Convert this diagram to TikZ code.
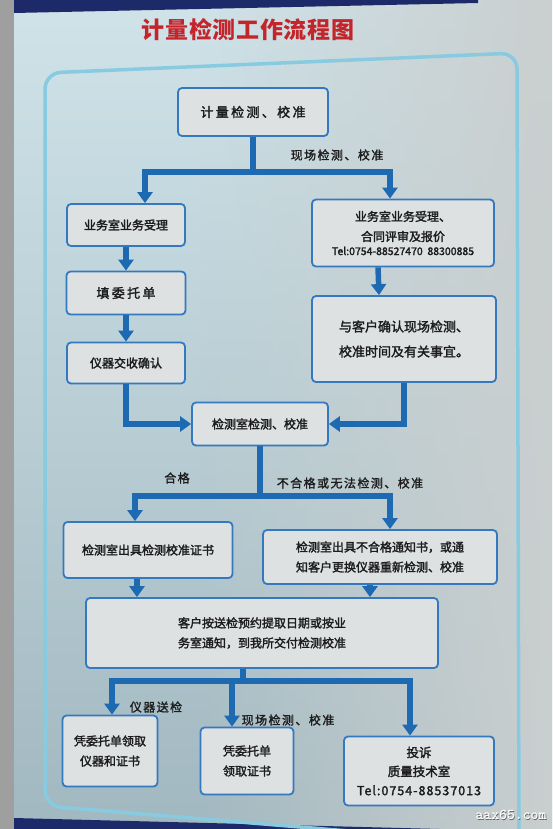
\documentclass[tikz,border=0pt]{standalone}
\usepackage{fontspec}
\newfontfamily\cjk{Noto Sans CJK SC}
\usetikzlibrary{arrows.meta,calc,positioning,fadings}
\definecolor{postertop}{HTML}{CFE3E9}
\definecolor{posterbot}{HTML}{A2B8C0}
\definecolor{posterright}{HTML}{CACFCF}
\definecolor{framecol}{HTML}{88CADF}
\definecolor{boxblue}{HTML}{3479C0}
\definecolor{boxgray}{HTML}{DEE1E2}
\definecolor{flowblue}{HTML}{1E6AB2}
\definecolor{textdark}{HTML}{1C1C1C}
\definecolor{titlered}{HTML}{C4252B}
\definecolor{navy}{HTML}{1C2A6A}
\begin{document}
\begin{tikzpicture}[x=1pt,y=-1pt,
    box/.style={draw=boxblue,line width=1.8pt,fill=boxgray,rounded corners=4pt,
      align=center,text=textdark,inner sep=2pt,
      font=\cjk\fontsize{12}{20}\selectfont\addfontfeature{FakeBold=2}},
    spaced/.style={font=\cjk\fontsize{13}{20}\selectfont\addfontfeature{LetterSpace=18,FakeBold=2}},
    flow/.style={draw=flowblue,line width=5.5pt,-{Triangle[width=15pt,length=11pt]}},
    bar/.style={draw=flowblue,line width=5.5pt},
    lbl/.style={font=\cjk\fontsize{12}{14}\selectfont\addfontfeature{LetterSpace=12,FakeBold=1.5},text=textdark}]
  \useasboundingbox (0,0) rectangle (552,829);
  %Poster
  \shade[top color=postertop,bottom color=posterbot] (0,0) rectangle (552,829);
  \fill[posterright,path fading=west] (200,0) rectangle (552,829);
  \fill[gray!75] (0,0) rectangle (14,829);
  \fill[navy] (14,0) -- (478,0) -- (478,3) -- (14,13) -- cycle;
  \fill[navy] (14,818) -- (440,829) -- (14,829) -- cycle;
  \draw[framecol,line width=3.5pt,rounded corners=16pt] (45,73) -- (517,53) -- (519,845) -- (45,806) -- cycle;
  %Title
  \node[font=\cjk\bfseries\fontsize{23}{25}\selectfont\addfontfeature{LetterSpace=3},text=titlered] (title) at (248,30) {计量检测工作流程图};
  %Boxes
  \node[box,spaced,minimum width=150,minimum height=48] (start) at (253,112) {计量检测、校准};
  \node[box,minimum width=118,minimum height=42] (desk) at (126,225) {业务室业务受理};
  \node[box,minimum width=182,minimum height=67] (deskon) at (403,233)
    {业务室业务受理、\\合同评审及报价\\[-6pt]{\fontsize{10.5}{12}\selectfont Tel:0754-88527470\ \ 88300885}};
  \node[box,spaced,minimum width=119,minimum height=43] (form) at (126,293) {填委托单};
  \node[box,font=\cjk\fontsize{13}{25}\selectfont\addfontfeature{FakeBold=2},minimum width=184,minimum height=86] (confirm) at (404,339)
    {与客户确认现场检测、\\校准时间及有关事宜。};
  \node[box,minimum width=118,minimum height=41] (handover) at (126,363) {仪器交收确认};
  \node[box,minimum width=136,minimum height=43] (lab) at (260,424) {检测室检测、校准};
  \node[box,minimum width=169,minimum height=56] (cert) at (148,550) {检测室出具检测校准证书};
  \node[box,minimum width=234,minimum height=54] (fail) at (380,557)
    {检测室出具不合格通知书，或通\\知客户更换仪器重新检测、校准};
  \node[box,minimum width=352,minimum height=70] (collect) at (262,633)
    {客户按送检预约提取日期或按业\\务室通知，到我所交付检测校准};
  \node[box,minimum width=95,minimum height=71] (pickup) at (110,751) {凭委托单领取\\仪器和证书};
  \node[box,minimum width=93,minimum height=67] (pickcert) at (247,761) {凭委托单\\领取证书};
  \node[box,font=\cjk\fontsize{12.5}{19}\selectfont\addfontfeature{FakeBold=2},minimum width=150,minimum height=69] (complain) at (419,771)
    {投诉\\质量技术室\\{\fontsize{12.5}{14}\selectfont\addfontfeature{LetterSpace=8}Tel:0754-88537013}};
  %Junctions
  \coordinate (j1) at (253,172);
  \coordinate (j2) at (260,496);
  \coordinate (j3) at (243,681);
  %Flow
  \draw[bar] (start.south) -- (j1);
  \draw[flow] (j1) -| ([xshift=19pt]desk.north);
  \draw[flow] (j1) -| ([xshift=-13pt]deskon.north);
  \draw[flow] (desk.south) -- (form.north);
  \draw[flow] (form.south) -- (handover.north);
  \draw[flow] ([xshift=-25pt]deskon.south) -- ([xshift=-25pt]confirm.north);
  \draw[flow] (handover.south) |- (lab.west);
  \draw[flow] (confirm.south) |- (lab.east);
  \draw[bar] (lab.south) -- (j2);
  \draw[flow] (j2) -| ([xshift=-13pt]cert.north);
  \draw[flow] (j2) -| ([xshift=10pt]fail.north);
  \draw[flow] ([xshift=-11pt]cert.south) -- ([xshift=-11pt]cert.south |- collect.north);
  \draw[flow] ([xshift=-10pt]fail.south) -- ([xshift=-10pt]fail.south |- collect.north);
  \draw[bar] ([xshift=-19pt]collect.south) -- (j3);
  \draw[flow] (j3) -| ([xshift=2pt]pickup.north);
  \draw[flow] (j3) -| ([xshift=-15pt]pickcert.north);
  \draw[flow] (j3) -| ([xshift=-9pt]complain.north);
  %Labels
  \node[lbl] (onsite) at (337,155) {现场检测、校准};
  \node[lbl] (pass) at (177,478) {合格};
  \node[lbl] (nopass) at (350,483) {不合格或无法检测、校准};
  \node[lbl] (send) at (156,707) {仪器送检};
  \node[lbl] (onsite2) at (288,720) {现场检测、校准};
  %Watermark
  \node[font=\ttfamily\bfseries\fontsize{15}{16}\selectfont,text=black!60] (markshadow) at (511.8,815.8) {aax65.com};
  \node[font=\ttfamily\bfseries\fontsize{15}{16}\selectfont,text=white] (mark) at (511,815) {aax65.com};
\end{tikzpicture}
\end{document}
